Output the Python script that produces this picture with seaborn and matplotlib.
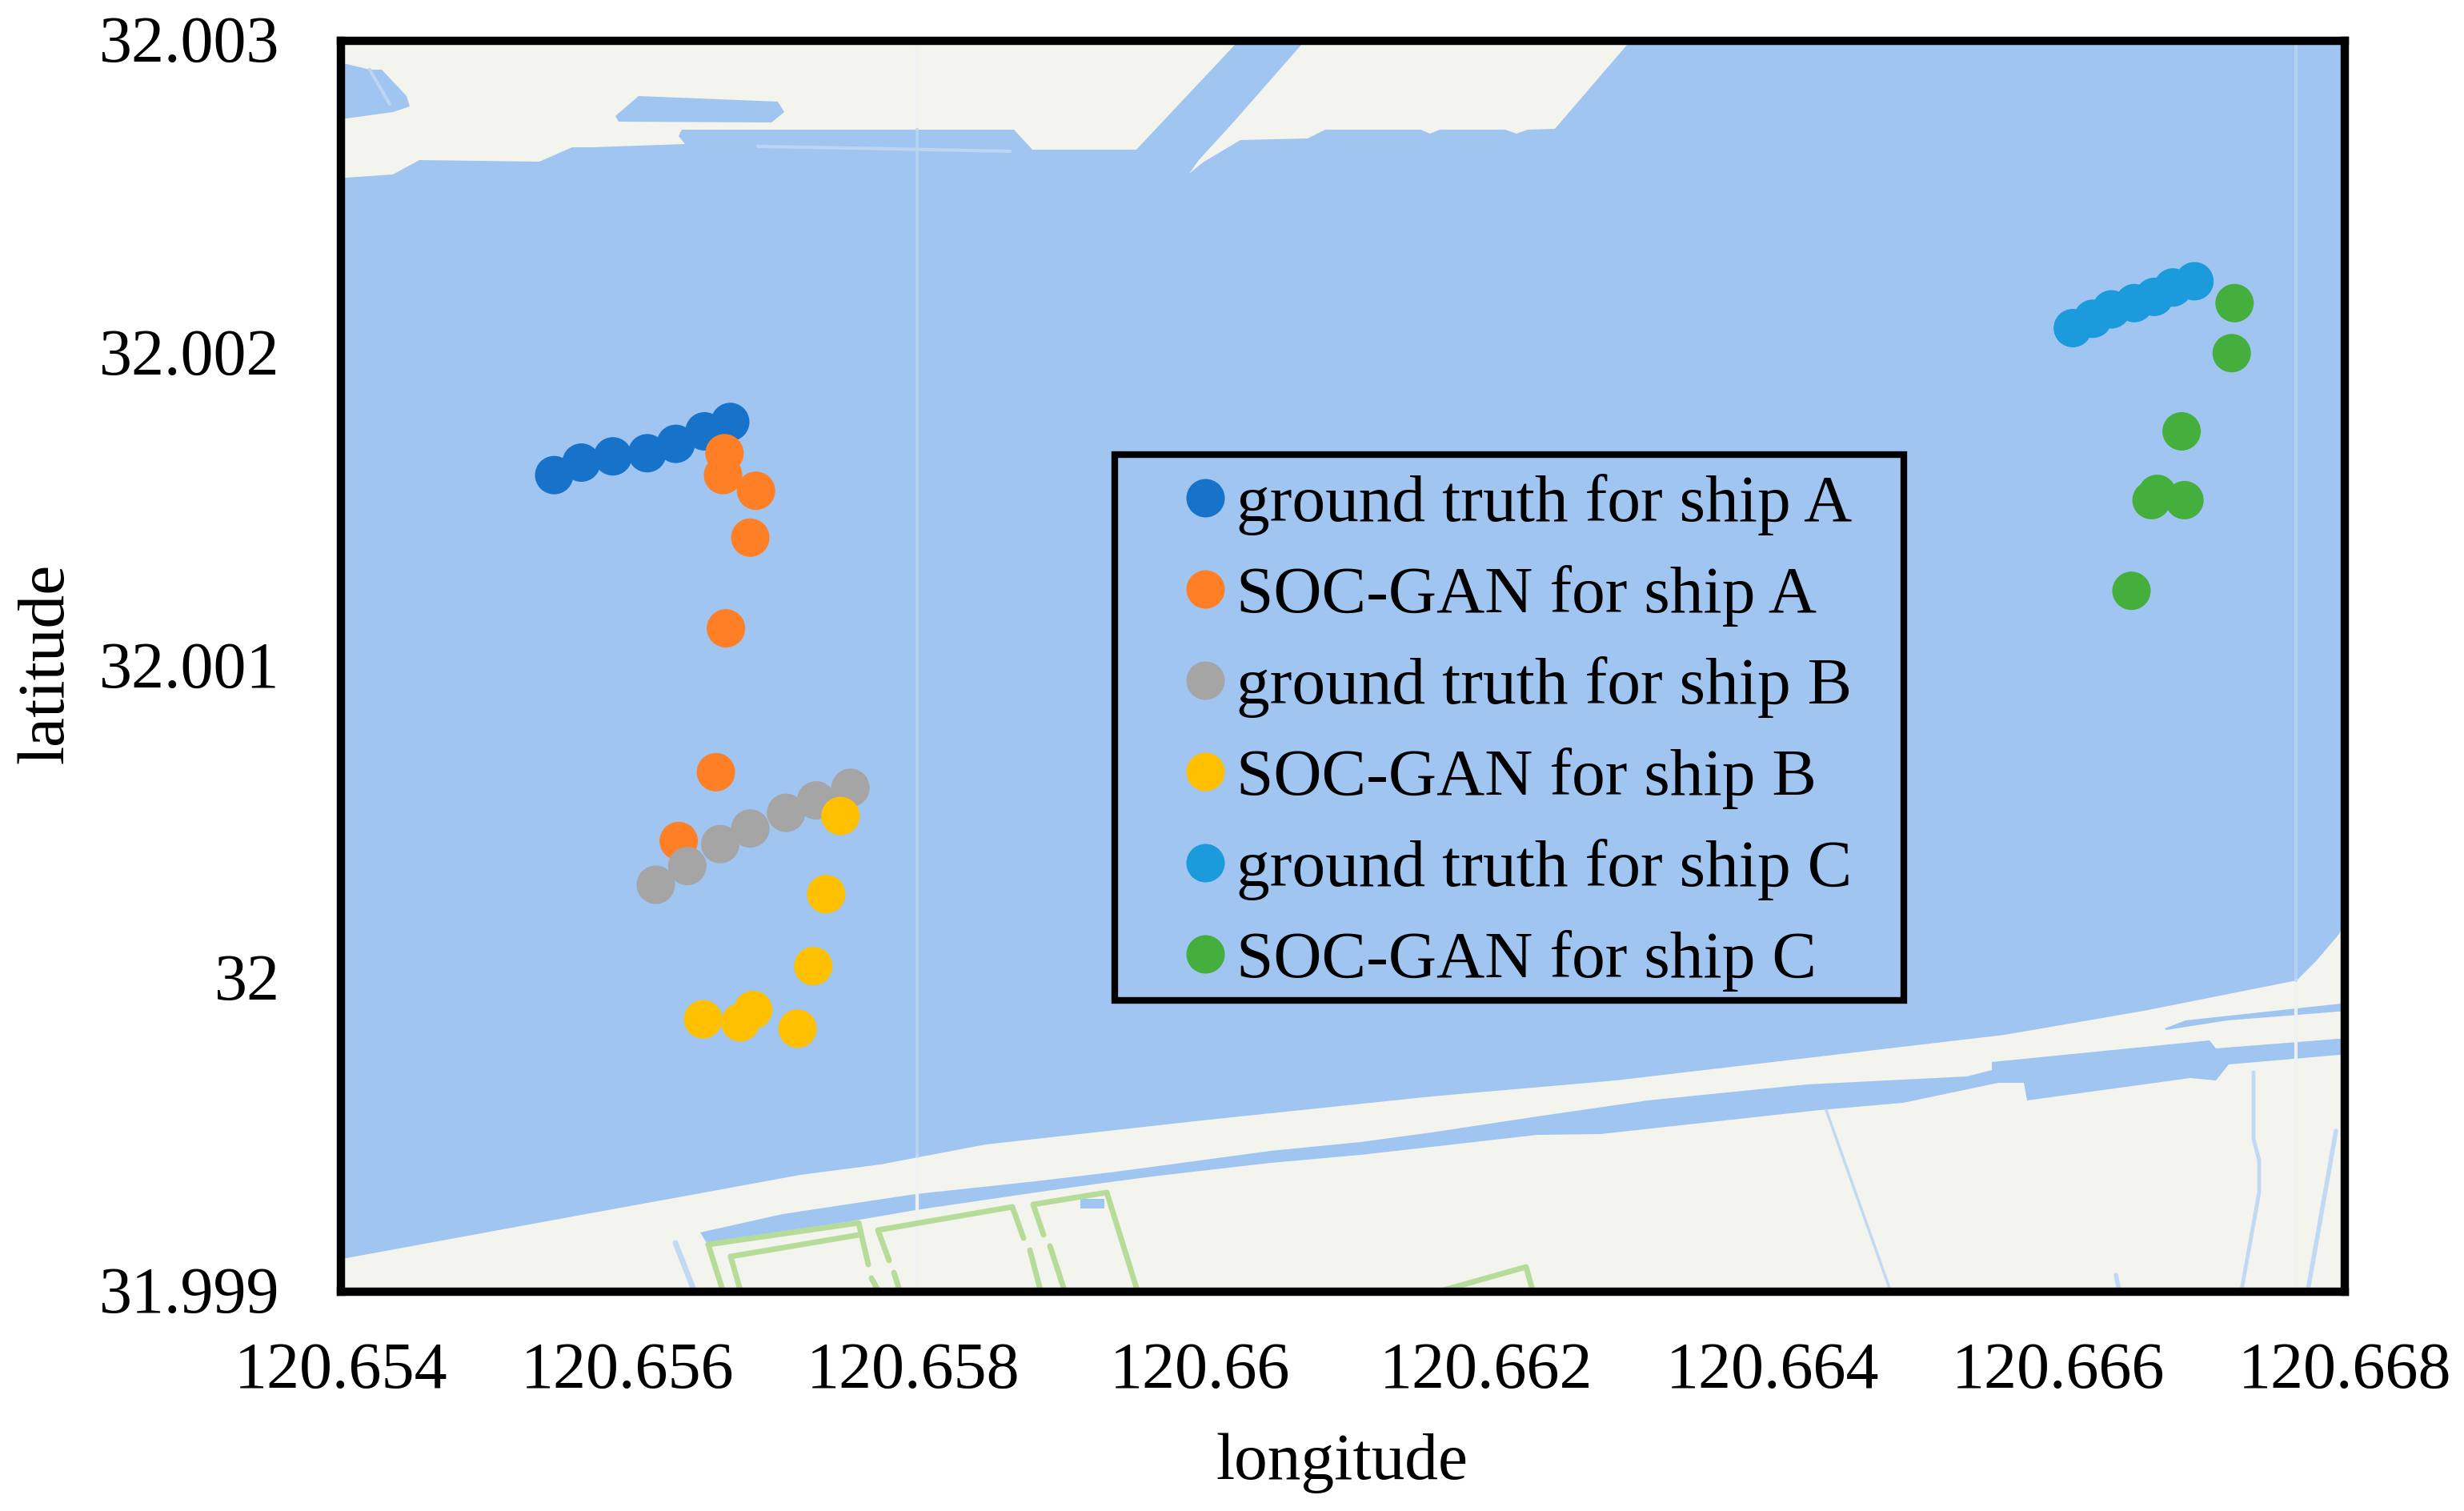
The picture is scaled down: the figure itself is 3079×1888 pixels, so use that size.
import numpy as np
import pandas as pd
import matplotlib
matplotlib.use("Agg")
import matplotlib.pyplot as plt
from matplotlib.patches import Polygon, Rectangle
from matplotlib.transforms import ScaledTranslation
import seaborn as sns

# ---------- data ----------
gt_a_lon = [120.65549, 120.65568, 120.65590, 120.65614, 120.65634, 120.65654, 120.65672]
gt_a_lat = [32.00161, 32.00165, 32.00167, 32.00168, 32.00171, 32.00175, 32.00178]
soc_a_lon = [120.65668, 120.65667, 120.65690, 120.65686, 120.65669, 120.65662, 120.65636]
soc_a_lat = [32.00168, 32.00161, 32.00156, 32.00141, 32.00112, 32.00066, 32.00044]
gt_b_lon = [120.65620, 120.65642, 120.65665, 120.65686, 120.65711, 120.65732, 120.65756]
gt_b_lat = [32.00030, 32.00036, 32.00043, 32.00048, 32.00053, 32.00057, 32.00061]
soc_b_lon = [120.65749, 120.65739, 120.65730, 120.65719, 120.65688, 120.65679, 120.65653]
soc_b_lat = [32.00052, 32.00027, 32.00004, 31.99984, 31.99990, 31.99986, 31.99987]
gt_c_lon = [120.66610, 120.66624, 120.66637, 120.66653, 120.66667, 120.66680, 120.66695]
gt_c_lat = [32.00208, 32.00211, 32.00214, 32.00216, 32.00218, 32.00221, 32.00223]
soc_c_lon = [120.66723, 120.66721, 120.66686, 120.66669, 120.66665, 120.66688, 120.66651]
soc_c_lat = [32.00216, 32.00200, 32.00175, 32.00155, 32.00153, 32.00153, 32.00124]

series_names = ["ground truth for ship A", "SOC-GAN for ship A",
                "ground truth for ship B", "SOC-GAN for ship B",
                "ground truth for ship C", "SOC-GAN for ship C"]
series_lon = [gt_a_lon, soc_a_lon, gt_b_lon, soc_b_lon, gt_c_lon, soc_c_lon]
series_lat = [gt_a_lat, soc_a_lat, gt_b_lat, soc_b_lat, gt_c_lat, soc_c_lat]
series_colors = ["#1772C9", "#FF7F27", "#A5A5A5", "#FFC000", "#1B9BDB", "#45AF3D"]

x_ticks = [120.654, 120.656, 120.658, 120.660, 120.662, 120.664, 120.666, 120.668]
x_tick_labels = ["120.654", "120.656", "120.658", "120.66", "120.662", "120.664", "120.666", "120.668"]
y_ticks = [31.999, 32.000, 32.001, 32.002, 32.003]
y_tick_labels = ["31.999", "32", "32.001", "32.002", "32.003"]

df = pd.concat([pd.DataFrame({"longitude": lo, "latitude": la, "series": n})
                for n, lo, la in zip(series_names, series_lon, series_lat)], ignore_index=True)

# ---------- basemap outlines (image pixels, decoration only) ----------
WATER, LAND, STREAM, PARK = "#A0C5F0", "#F3F4EE", "#B9D5F4", "#B7DC9A"
land_top_left = [(420,45),(1544,45),(1544,55),(1420,187),(1290,187),(1267,162),(852,162),(848,170),(856,180),
                 (740,184),(715,184),(674,202),(524,200),(491,218),(433,222),(420,222)]
land_top_right = [(1627,45),(1627,55),(1541,153),(1498,200),(1486,217),(1503,203),(1550,175),(1634,173),(1656,162),
                  (1775,162),(1787,167),(1799,162),(1881,162),(1895,167),(1909,162),(1943,161),(2034,55),(2034,45)]
land_bottom = [(420,1574),(433,1572),(732,1517),(864,1493),(1000,1468),(1100,1455),(1232,1430),(1502,1400),(1789,1370),
               (2019,1350),(2258,1322),(2505,1293),(2679,1263),(2870,1225),(2895,1200),(2923,1167),(2935,1140),
               (2935,1620),(420,1620)]
pond_1 = [(798,120),(972,127),(980,140),(964,153),(773,152),(769,145)]
pond_2 = [(425,78),(433,80),(462,87),(477,87),(508,120),(512,133),(491,140),(433,148),(425,148)]
canal_main = [(875,1540),(978,1517),(1144,1492),(1294,1476),(1387,1465),(1440,1458),(1588,1438),(1700,1427),(1789,1415),(1921,1395),
              (2059,1375),(2258,1355),(2458,1345),(2489,1337),(2489,1327),(2761,1300),(2769,1310),(2935,1297),
              (2935,1317),(2785,1330),(2769,1350),(2737,1347),(2533,1375),(2529,1353),(2497,1353),(2378,1378),
              (2274,1387),(2000,1417),(1921,1418),(1789,1433),(1700,1443),(1588,1453),(1440,1470),(1387,1477),(1294,1490),(1144,1512),
              (1057,1527),(883,1553)]
canal_small = [(2705,1285),(2731,1275),(2935,1253),(2935,1263),(2783,1275),(2707,1287)]
pond_3 = [(1350,1498),(1380,1498),(1380,1510),(1350,1510)]
streams = [[(2282,1387),(2362,1612)],
           [(2816,1340),(2816,1423),(2823,1450),(2823,1490),(2801,1612)],
           [(2919,1413),(2884,1612)],
           [(2644,1593),(2648,1612)],
           [(844,1553),(867,1612)],
           [(1146,162),(1146,1445)],
           [(2869,55),(2869,1225)]]
land_slivers = [[(947,183),(1063,185),(1262,189)], [(462,87),(487,130)]]
faint_lines = [[(1146,55),(1146,162)], [(1146,1445),(1146,1612)], [(2869,1225),(2869,1612)]]
park_lines = [[(885,1555),(1073,1528),(1085,1580)], [(1089,1597),(1097,1612)],
              [(885,1555),(903,1612)],
              [(913,1570),(1073,1543)], [(913,1570),(925,1612)],
              [(1111,1575),(1097,1537),(1265,1508),(1279,1547)], [(1287,1562),(1300,1612)],
              [(1117,1590),(1124,1612)],
              [(1304,1543),(1291,1505),(1383,1490),(1421,1612)], [(1312,1557),(1330,1612)],
              [(1804,1612),(1907,1583),(1915,1612)]]

# ---------- figure ----------
W, H, DPI = 3079, 1888, 100
sns.set_theme(style="white")
plt.rcParams["font.family"] = ["Liberation Serif", "DejaVu Serif"]
fig = plt.figure(figsize=(W / DPI, H / DPI), dpi=DPI, facecolor="white")
AL, AR, AT, AB = 426, 2930, 50.5, 1613.5
ax = fig.add_axes([AL / W, (H - AB) / H, (AR - AL) / W, (AB - AT) / H])
ax.set_facecolor(WATER)

def axpts(pts):
    p = np.asarray(pts, float)
    return np.column_stack([(p[:, 0] - AL) / (AR - AL), (AB - p[:, 1]) / (AB - AT)])

for poly, col in [(land_top_left, LAND), (land_top_right, LAND), (land_bottom, LAND),
                  (pond_1, WATER), (pond_2, WATER), (canal_main, WATER), (canal_small, WATER), (pond_3, WATER)]:
    ax.add_patch(Polygon(axpts(poly), closed=True, fc=col, ec="none", transform=ax.transAxes, zorder=1))
for ln in land_slivers:
    p = axpts(ln)
    ax.plot(p[:, 0], p[:, 1], color="#BCD5F0", lw=3, transform=ax.transAxes, zorder=1.4, scalex=False, scaley=False)
for ln in faint_lines:
    p = axpts(ln)
    ax.plot(p[:, 0], p[:, 1], color="#EEF1EF", lw=3, transform=ax.transAxes, zorder=1.45, scalex=False, scaley=False)
for ln, lw in zip(streams, [2.5, 3.5, 4, 4, 5, 3, 3]):
    p = axpts(ln)
    ax.plot(p[:, 0], p[:, 1], color=STREAM, lw=lw, transform=ax.transAxes, zorder=1.5, alpha=0.85, scalex=False, scaley=False)
for ln in park_lines:
    p = axpts(ln)
    ax.plot(p[:, 0], p[:, 1], color=PARK, lw=5, transform=ax.transAxes, zorder=1.6, scalex=False, scaley=False)

MARKER_PX = 48
MARKER_PT = MARKER_PX * 72 / DPI
sns.scatterplot(data=df, x="longitude", y="latitude", hue="series", hue_order=series_names,
                palette=series_colors, s=MARKER_PT ** 2, linewidth=0, ax=ax, zorder=3, legend="full")

ax.set_xlim(120.654, 120.668)
ax.set_ylim(31.999, 32.003)
ax.set_xticks(x_ticks, x_tick_labels)
ax.set_yticks(y_ticks, y_tick_labels)
ax.tick_params(axis="x", length=0, pad=45, labelsize=59, colors="black")
ax.tick_params(axis="y", length=0, pad=55, labelsize=59, colors="black")
shift_down = ScaledTranslation(0, -7 / DPI, fig.dpi_scale_trans)
for t in ax.get_yticklabels():
    t.set_verticalalignment("center")
    t.set_transform(t.get_transform() + shift_down)
ax.set_xlabel("longitude", fontsize=60, color="black", va="center")
ax.set_ylabel("latitude", fontsize=60, color="black", va="center")
ax.xaxis.set_label_coords((1677 - AL) / (AR - AL), (AB - 1828) / (AB - AT))
ax.yaxis.set_label_coords((59 - AL) / (AR - AL), (AB - 829) / (AB - AT))
for s in ax.spines.values():
    s.set_visible(True)
    s.set_color("black")
    s.set_linewidth(7.5)
    s.set_zorder(5)

# legend
handles, labels = ax.get_legend_handles_labels()
leg = ax.legend(handles, labels, loc="upper left", frameon=False, fontsize=60,
                bbox_to_anchor=((1485 - AL) / (AR - AL), (AB - 592) / (AB - AT)),
                borderaxespad=0, borderpad=0, handlelength=0.5, handletextpad=0.22,
                labelspacing=0.445)
leg.set_zorder(6)
for h in leg.legend_handles:
    if hasattr(h, "set_markersize"):
        h.set_markersize(MARKER_PT)
    else:
        h.set_sizes([MARKER_PT ** 2])
for t in leg.get_texts():
    t.set_color("black")
(rx0, ry0), (rx1, ry1) = axpts([(1393, 1250), (2379, 567.5)])
ax.add_patch(Rectangle((rx0, ry0), rx1 - rx0, ry1 - ry0, fill=False, ec="black", lw=6,
                       transform=ax.transAxes, zorder=4))

fig.savefig("out.png", dpi=DPI, facecolor="white")
